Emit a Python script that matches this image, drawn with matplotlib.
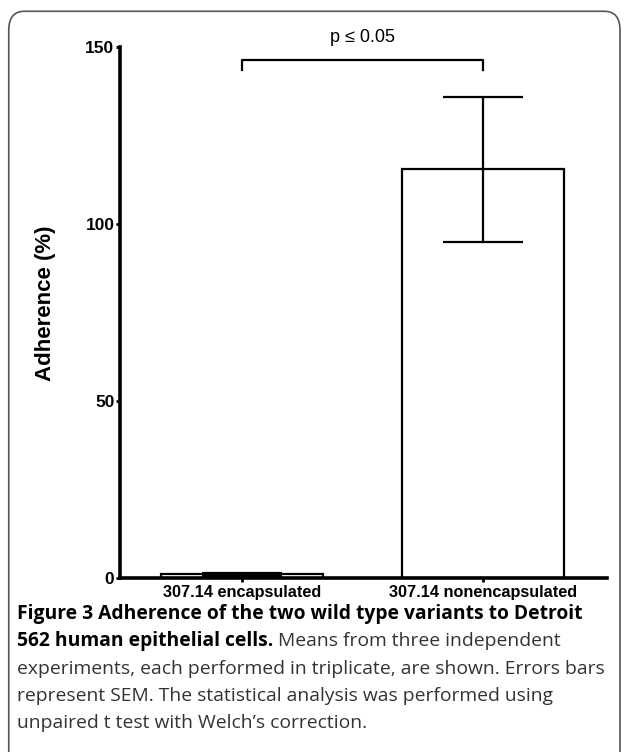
import matplotlib
matplotlib.use("Agg")
import matplotlib.pyplot as plt
from matplotlib.patches import FancyBboxPatch

# data
groups = ["307.14 encapsulated", "307.14 nonencapsulated"]
adherence = [1.0, 115.5]
sem = [0.3, 20.5]
p_label = "p \u2264 0.05"

fig = plt.figure(figsize=(6.25, 7.52), dpi=100)

# rounded frame around figure
frame = FancyBboxPatch((0.014, -0.05), 0.978, 1.035, transform=fig.transFigure,
                       boxstyle="round,pad=0,rounding_size=0.025",
                       fill=False, edgecolor="#555555", linewidth=1.2)
fig.patches.append(frame)

ax = fig.add_axes([0.192, 0.2314, 0.779, 0.7061])
x = [0, 1]
ax.bar(x, adherence, width=0.67, color="white", edgecolor="black", linewidth=1.6)
ax.errorbar(x, adherence, yerr=sem, fmt="none", ecolor="black",
            elinewidth=1.6, capsize=28.8, capthick=1.6)

ax.set_xlim(-0.506, 1.515)
ax.set_ylim(0, 150)
ax.set_yticks([0, 50, 100, 150])
ax.set_xticks(x)
ax.set_xticklabels(groups)
ax.spines["top"].set_visible(False)
ax.spines["right"].set_visible(False)
ax.spines["left"].set_linewidth(2.6)
ax.spines["bottom"].set_linewidth(2.6)
ax.tick_params(axis="y", length=3, width=2, pad=1, labelsize=12.5)
ax.tick_params(axis="x", length=3, width=2, pad=2, labelsize=11.7)
for lab in ax.get_xticklabels() + ax.get_yticklabels():
    lab.set_fontfamily("Liberation Sans")
    lab.set_fontweight("bold")
ax.set_ylabel("Adherence (%)", fontsize=16, fontweight="bold",
              family="Liberation Sans")
ax.yaxis.set_label_coords(-0.131, 0.518)

# significance bracket
ax.plot([0, 0, 1, 1], [143.5, 146.4, 146.4, 143.5], color="black",
        linewidth=1.6, clip_on=False)
ax.text(0.5, 150.2, p_label, ha="center", va="bottom", fontsize=13,
        family="Liberation Sans", clip_on=False)

# caption
cap_font = ["Open Sans", "DejaVu Sans"]
fs = 13.9
fig.text(0.027, 0.183, "Figure 3 Adherence of the two wild type variants to Detroit",
         fontsize=fs, fontweight="bold", family=cap_font, va="center")
t2 = fig.text(0.027, 0.147, "562 human epithelial cells.", fontsize=fs,
              fontweight="bold", family=cap_font, va="center")
fig.canvas.draw()
bb = t2.get_window_extent()
x2 = (bb.x1 + 5) / fig.bbox.width
fig.text(x2, 0.147, "Means from three independent", fontsize=fs,
         family=cap_font, va="center", color="#333333")
lines = ["experiments, each performed in triplicate, are shown. Errors bars",
         "represent SEM. The statistical analysis was performed using",
         "unpaired t test with Welch\u2019s correction."]
ys = [0.111, 0.075, 0.039]
for line, yy in zip(lines, ys):
    fig.text(0.027, yy, line, fontsize=fs, family=cap_font, va="center",
             color="#333333")

fig.savefig("out.png", dpi=100)
